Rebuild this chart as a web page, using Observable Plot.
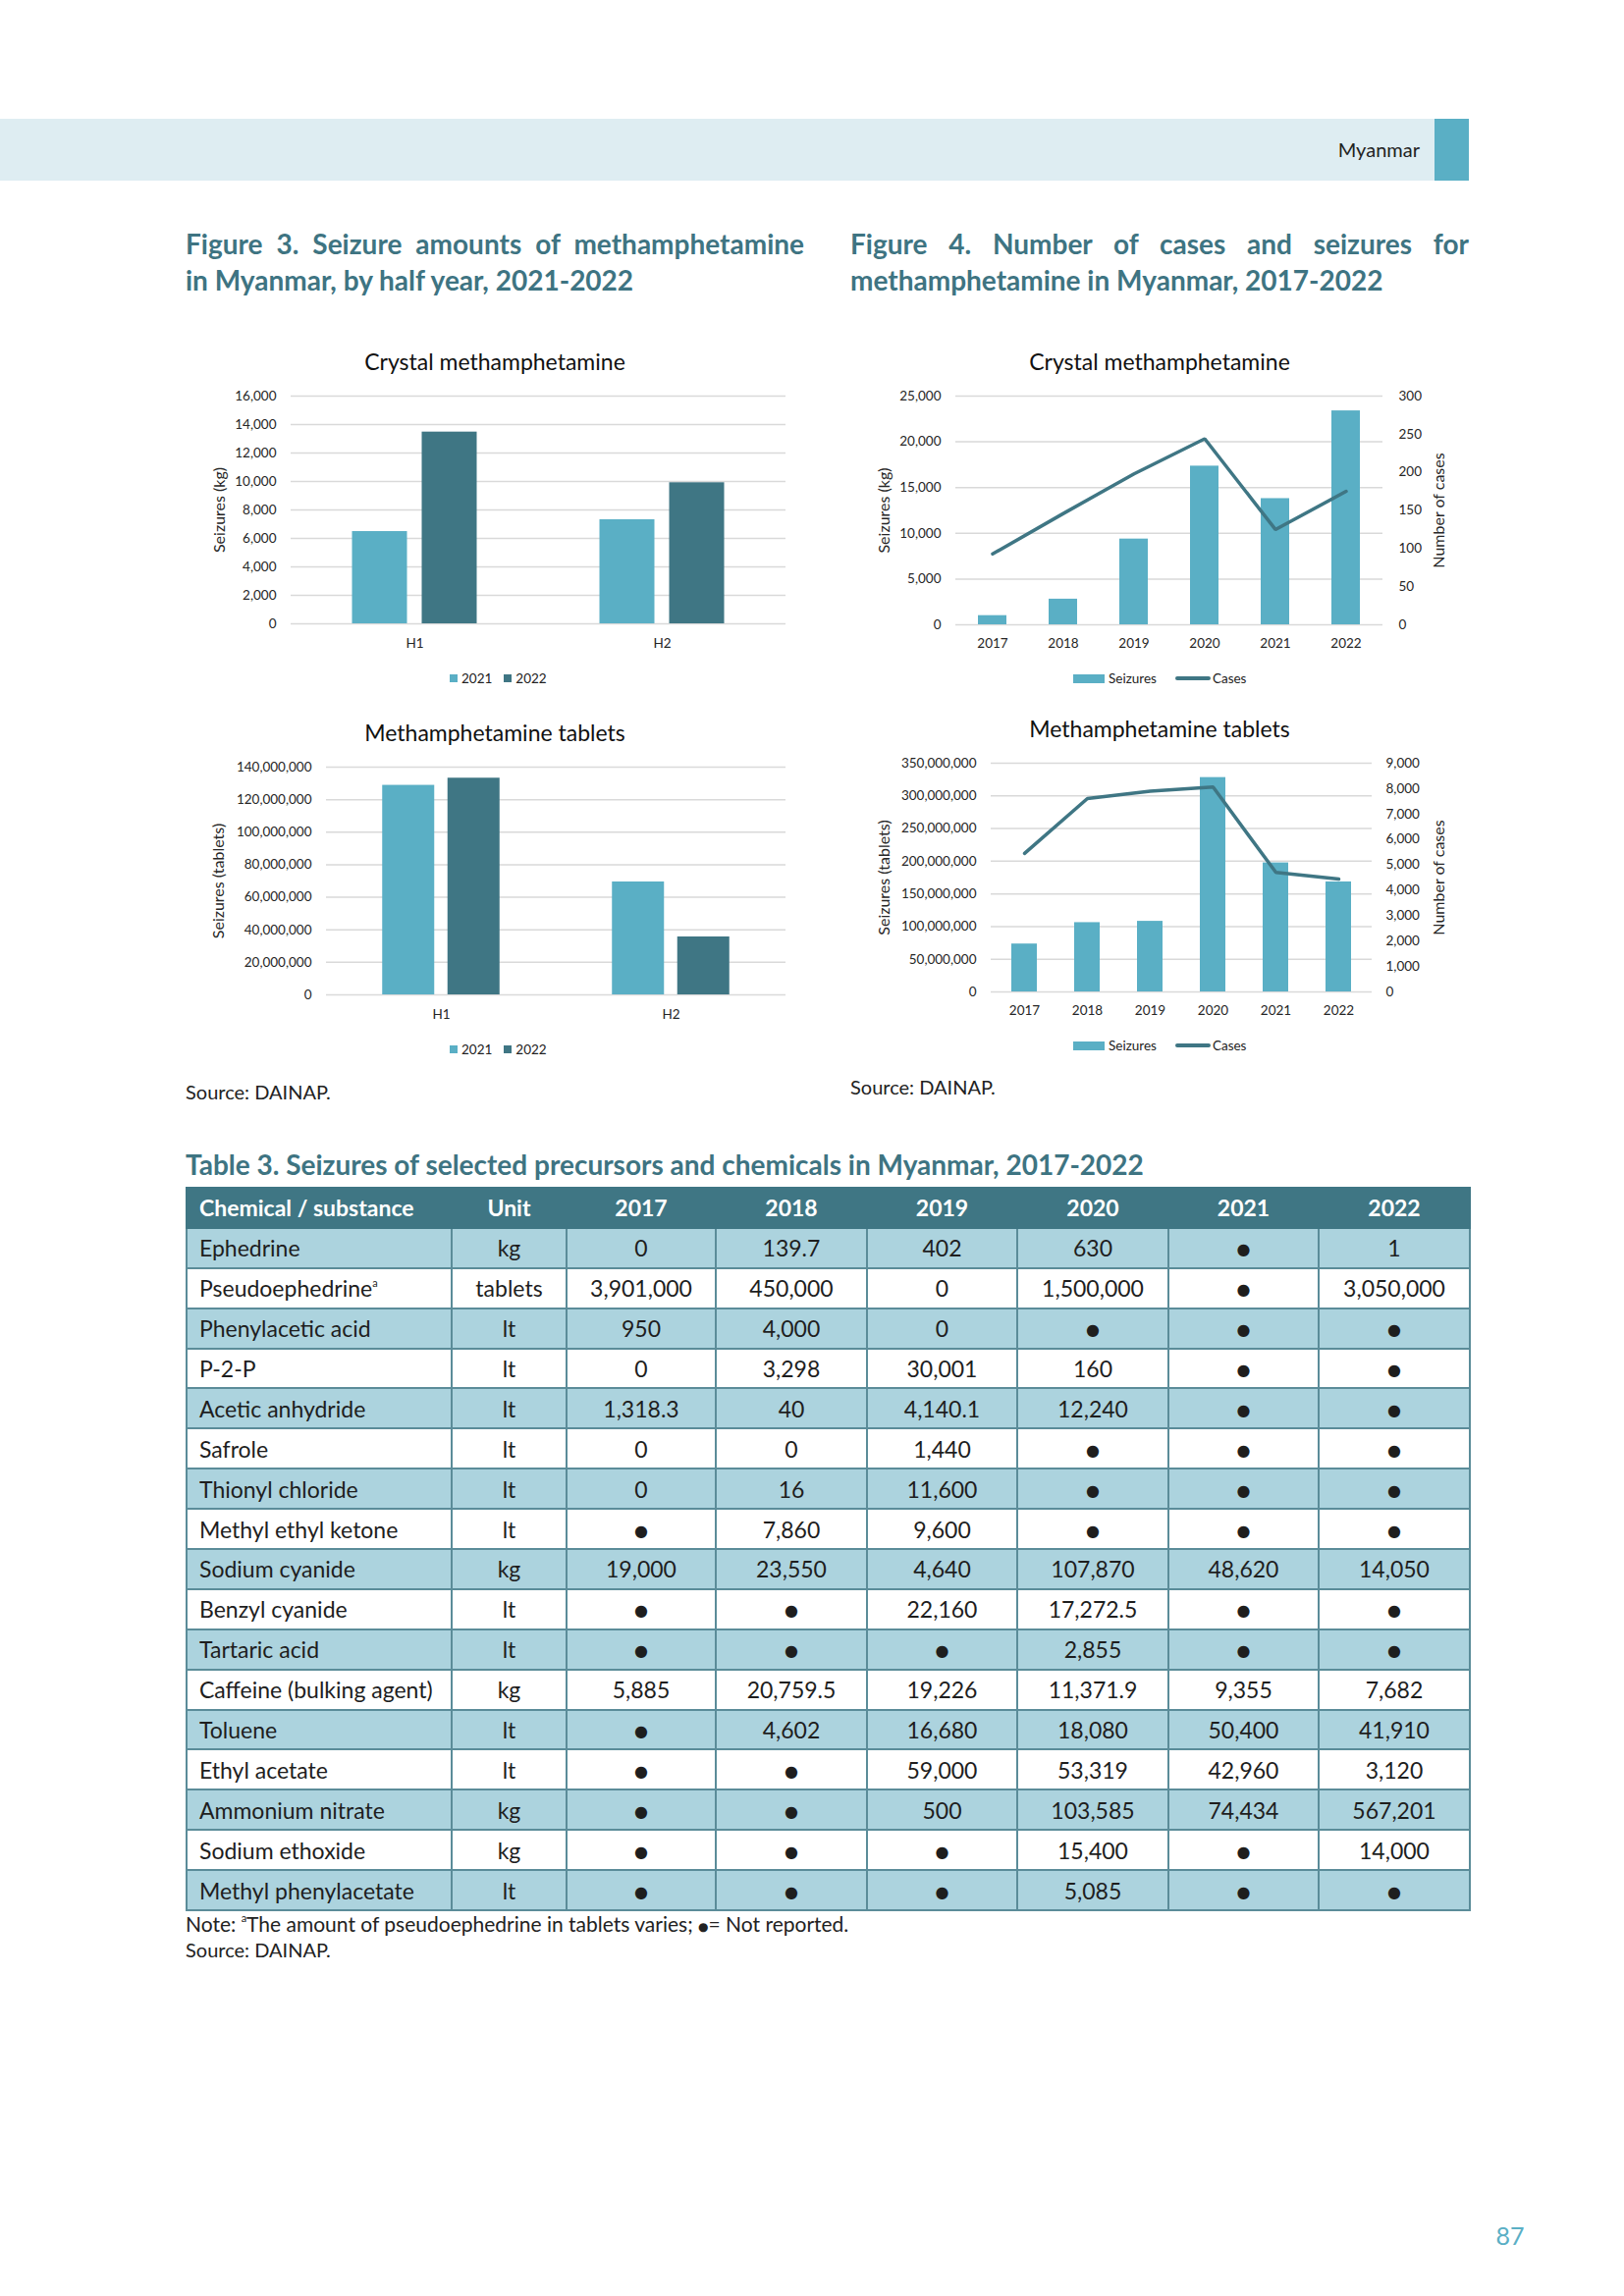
<!DOCTYPE html>
<html><head><meta charset="utf-8">
<script src="https://cdn.jsdelivr.net/npm/d3@7"></script>
<script src="https://cdn.jsdelivr.net/npm/@observablehq/plot@0.6"></script>
<style>
body{margin:0;background:#fff;font-family:Lato,"Noto Sans",sans-serif;color:#222}
#page{position:relative;width:1654px;height:2339px;overflow:hidden;background:#fff}
.abs{position:absolute;white-space:nowrap}
.ftitle{font-weight:700;color:#3e7482;font-size:28px;width:630px}
.just{text-align:justify;text-align-last:justify}
.ctitle{font-size:23px;color:#111;transform:translate(-50%,-50%)}
.legend{display:flex;align-items:center;font-size:13.5px;color:#222;transform:translateY(-50%)}
.sw{display:inline-block;margin-right:4px}
table{border-collapse:collapse;table-layout:fixed;font-size:23px;color:#1e1e1e}
td{border:2px solid #5b8c99;height:40.9px;padding:0;text-align:center;box-sizing:border-box}
th{border:2px solid #3f7684;background:#3f7684;color:#fff;font-weight:700;height:40.9px;padding:0;text-align:center;box-sizing:border-box}
td.name,th.name{text-align:left;padding-left:12px}
tr.shade td{background:#acd3de}
.dot{font-size:16px;font-family:"DejaVu Sans",sans-serif;position:relative;top:-2px}
sup{font-size:11px;vertical-align:10px;line-height:0}
</style></head><body><div id="page"></div>
<script>
// ---------- data ----------
const halves = ["H1", "H2"];
const halfYears = ["2021", "2022"];
const crystalHalf2021 = [6480, 7310];
const crystalHalf2022 = [13470, 9910];
const tabletsHalf2021 = [128800000, 69400000];
const tabletsHalf2022 = [133200000, 35600000];

const years = ["2017", "2018", "2019", "2020", "2021", "2022"];
const crystalSeizures = [1000, 2800, 9370, 17340, 13790, 23380];
const crystalCases = [93, 146, 198, 244, 125, 175];
const tabletSeizures = [73300000, 106000000, 108000000, 328000000, 197400000, 168300000];
const tabletCases = [5450, 7610, 7900, 8060, 4700, 4440];

const tableColumns = ["Chemical / substance", "Unit", "2017", "2018", "2019", "2020", "2021", "2022"];
const chemicals = ["Ephedrine", "Pseudoephedrine", "Phenylacetic acid", "P-2-P", "Acetic anhydride", "Safrole",
  "Thionyl chloride", "Methyl ethyl ketone", "Sodium cyanide", "Benzyl cyanide", "Tartaric acid",
  "Caffeine (bulking agent)", "Toluene", "Ethyl acetate", "Ammonium nitrate", "Sodium ethoxide", "Methyl phenylacetate"];
const units = ["kg", "tablets", "lt", "lt", "lt", "lt", "lt", "lt", "kg", "lt", "lt", "kg", "lt", "lt", "kg", "kg", "lt"];
// null = not reported
const v2017 = ["0", "3,901,000", "950", "0", "1,318.3", "0", "0", null, "19,000", null, null, "5,885", null, null, null, null, null];
const v2018 = ["139.7", "450,000", "4,000", "3,298", "40", "0", "16", "7,860", "23,550", null, null, "20,759.5", "4,602", null, null, null, null];
const v2019 = ["402", "0", "0", "30,001", "4,140.1", "1,440", "11,600", "9,600", "4,640", "22,160", null, "19,226", "16,680", "59,000", "500", null, null];
const v2020 = ["630", "1,500,000", null, "160", "12,240", null, null, null, "107,870", "17,272.5", "2,855", "11,371.9", "18,080", "53,319", "103,585", "15,400", "5,085"];
const v2021 = [null, null, null, null, null, null, null, null, "48,620", null, null, "9,355", "50,400", "42,960", "74,434", null, null];
const v2022 = ["1", "3,050,000", null, null, null, null, null, null, "14,050", null, null, "7,682", "41,910", "3,120", "567,201", "14,000", null];

// ---------- styles ----------
const LIGHT = "#5aafc5", DARK = "#3f7684", GRID = "#d9d9d9";
const FONT = "Lato, 'Noto Sans', sans-serif";
const fmt = d3.format(",");
const page = document.getElementById("page");

function add(html, cls, css) {
  const d = document.createElement("div");
  d.className = "abs " + (cls || "");
  d.innerHTML = html;
  Object.assign(d.style, css);
  page.appendChild(d);
  return d;
}
function place(svg, left, top) {
  const w = document.createElement("div");
  w.className = "abs";
  Object.assign(w.style, {left: left + "px", top: top + "px"});
  w.appendChild(svg);
  page.appendChild(w);
}

// ---------- header ----------
add("", "", {left: "0px", top: "121px", width: "1461px", height: "63px", background: "#deedf2"});
add("", "", {left: "1461px", top: "121px", width: "35px", height: "63px", background: "#5aafc5"});
add("Myanmar", "", {right: (1654 - 1446) + "px", top: "140px", fontSize: "20px", color: "#222"});

add("Figure 3. Seizure amounts of methamphetamine", "ftitle just", {left: "189px", top: "231px"});
add("in Myanmar, by half year, 2021-2022", "ftitle", {left: "189px", top: "268px"});
add("Figure 4. Number of cases and seizures for", "ftitle just", {left: "866px", top: "231px"});
add("methamphetamine in Myanmar, 2017-2022", "ftitle", {left: "866px", top: "268px"});

// ---------- Figure 3 grouped charts ----------
function grouped({a, b, max, step, label, labelDx, ml, mt, barW, gap}) {
  const plotW = 620 - ml - 10;
  const band = plotW / halves.length;
  const inset = (band - barW) / 2;
  const off = (barW + gap) / 2;
  const ticks = d3.range(0, max + 1, step);
  return Plot.plot({
    width: 620, height: mt + 232 + 38,
    marginTop: mt, marginBottom: 38, marginLeft: ml, marginRight: 10,
    style: {fontFamily: FONT, fontSize: "13.5px", color: "#262626", background: "transparent", overflow: "visible"},
    x: {domain: halves, padding: 0},
    y: {domain: [0, max]},
    marks: [
      Plot.gridY(ticks, {stroke: GRID, strokeOpacity: 1, strokeWidth: 1.5}),
      Plot.barY(halves, {x: d => d, y: (d, i) => a[i], fill: LIGHT, insetLeft: inset, insetRight: inset, dx: -off}),
      Plot.barY(halves, {x: d => d, y: (d, i) => b[i], fill: DARK, insetLeft: inset, insetRight: inset, dx: off}),
      Plot.axisY(ticks, {tickSize: 0, tickPadding: 15, tickFormat: fmt, label: null}),
      Plot.axisX({tickSize: 0, tickPadding: 15, label: null}),
      Plot.text([label], {text: d => d, frameAnchor: "left", textAnchor: "middle", dx: labelDx, rotate: -90, fontSize: 16, fill: "#262626"})
    ]
  });
}

add("Crystal methamphetamine", "ctitle", {left: "504px", top: "368px"});
place(grouped({a: crystalHalf2021, b: crystalHalf2022, max: 16000, step: 2000, label: "Seizures (kg)",
  labelDx: -73, ml: 106, mt: 13, barW: 56, gap: 15}), 190, 390);
add('<span class="sw" style="width:8px;height:8px;background:' + LIGHT + '"></span>2021<span class="sw" style="width:8px;height:8px;background:' + DARK + ';margin-left:12px"></span>2022',
  "legend", {left: "458px", top: "691px"});

add("Methamphetamine tablets", "ctitle", {left: "504px", top: "746px"});
place(grouped({a: tabletsHalf2021, b: tabletsHalf2022, max: 140000000, step: 20000000, label: "Seizures (tablets)",
  labelDx: -110, ml: 142, mt: 21, barW: 53, gap: 13.5}), 190, 760);
add('<span class="sw" style="width:8px;height:8px;background:' + LIGHT + '"></span>2021<span class="sw" style="width:8px;height:8px;background:' + DARK + ';margin-left:12px"></span>2022',
  "legend", {left: "458px", top: "1069px"});

// ---------- Figure 4 combo charts ----------
function combo({bars, cases, max, step, cmax, cstep, label, labelDx, rlabelDx, ml, mr, mt, rpad}) {
  const k = max / cmax;
  const ticks = d3.range(0, max + 1, step);
  const cticks = d3.range(0, cmax + 1, cstep).map(v => v * k);
  return Plot.plot({
    width: 630, height: mt + 233 + 38,
    marginTop: mt, marginBottom: 38, marginLeft: ml, marginRight: mr,
    style: {fontFamily: FONT, fontSize: "13.5px", color: "#262626", background: "transparent", overflow: "visible"},
    x: {domain: years, paddingInner: 0.6, paddingOuter: 0.3},
    y: {domain: [0, max]},
    marks: [
      Plot.gridY(ticks, {stroke: GRID, strokeOpacity: 1, strokeWidth: 1.5}),
      Plot.barY(years, {x: d => d, y: (d, i) => bars[i], fill: LIGHT}),
      Plot.line(years, {x: d => d, y: (d, i) => cases[i] * k, stroke: DARK, strokeWidth: 3.5, strokeLinejoin: "miter", strokeLinecap: "round"}),
      Plot.axisY(ticks, {tickSize: 0, tickPadding: 15, tickFormat: fmt, label: null}),
      Plot.axisY(cticks, {anchor: "right", tickSize: 0, tickPadding: rpad, tickFormat: v => fmt(Math.round(v / k)), label: null}),
      Plot.axisX({tickSize: 0, tickPadding: 14, label: null}),
      Plot.text([label], {text: d => d, frameAnchor: "left", textAnchor: "middle", dx: labelDx, rotate: -90, fontSize: 16, fill: "#262626"}),
      Plot.text(["Number of cases"], {text: d => d, frameAnchor: "right", textAnchor: "middle", dx: rlabelDx, rotate: -90, fontSize: 16, fill: "#262626"})
    ]
  });
}

function comboLegend(top) {
  add('<span class="sw" style="width:32px;height:9px;background:' + LIGHT + '"></span>Seizures' +
      '<span class="sw" style="width:36px;height:3.5px;border-radius:2px;background:' + DARK + ';margin-left:19px;margin-right:2px"></span>Cases',
    "legend", {left: "1093px", top: top + "px"});
}

add("Crystal methamphetamine", "ctitle", {left: "1181px", top: "368px"});
place(combo({bars: crystalSeizures, cases: crystalCases, max: 25000, step: 5000, cmax: 300, cstep: 50,
  label: "Seizures (kg)", labelDx: -73, rlabelDx: 57, ml: 107, mr: 88, mt: 13, rpad: 16}), 866, 390);
comboLegend(691);

add("Methamphetamine tablets", "ctitle", {left: "1181px", top: "742px"});
place(combo({bars: tabletSeizures, cases: tabletCases, max: 350000000, step: 50000000, cmax: 9000, cstep: 1000,
  label: "Seizures (tablets)", labelDx: -109, rlabelDx: 68, ml: 143, mr: 99, mt: 20, rpad: 14}), 866, 757);
comboLegend(1065);

add("Source: DAINAP.", "", {left: "189px", top: "1100px", fontSize: "20px"});
add("Source: DAINAP.", "", {left: "866px", top: "1095px", fontSize: "20px"});

// ---------- Table 3 ----------
add("Table 3. Seizures of selected precursors and chemicals in Myanmar, 2017-2022", "ftitle",
  {left: "189px", top: "1169px", width: "auto"});

const colW = [270, 117, 152, 154, 153, 154, 153, 154];
const yearCols = [v2017, v2018, v2019, v2020, v2021, v2022];
const tbl = document.createElement("table");
tbl.style.width = "1307px";
let html = "<colgroup>" + colW.map(w => '<col style="width:' + w + 'px">').join("") + "</colgroup>";
html += "<tr>" + tableColumns.map((c, i) => '<th class="' + (i === 0 ? "name" : "") + '">' + c + "</th>").join("") + "</tr>";
chemicals.forEach((c, r) => {
  const name = c + (c === "Pseudoephedrine" ? "<sup>a</sup>" : "");
  html += '<tr class="' + (r % 2 === 0 ? "shade" : "") + '"><td class="name">' + name + "</td><td>" + units[r] + "</td>" +
    yearCols.map(col => "<td>" + (col[r] === null ? '<span class="dot">●</span>' : col[r]) + "</td>").join("") + "</tr>";
});
tbl.innerHTML = html;
const tw = document.createElement("div");
tw.className = "abs";
Object.assign(tw.style, {left: "189px", top: "1209px"});
tw.appendChild(tbl);
page.appendChild(tw);

add('Note: <sup>a</sup>The amount of pseudoephedrine in tablets varies; <span class="dot" style="font-size:12px;top:-1px">●</span>= Not reported.', "",
  {left: "189px", top: "1947px", fontSize: "21px"});
add("Source: DAINAP.", "", {left: "189px", top: "1974px", fontSize: "20px"});

add("87", "", {left: "1538px", top: "2277px", fontSize: "25px", color: "#5aafc5", transform: "translate(-50%,-50%)"});
</script>
</body></html>
